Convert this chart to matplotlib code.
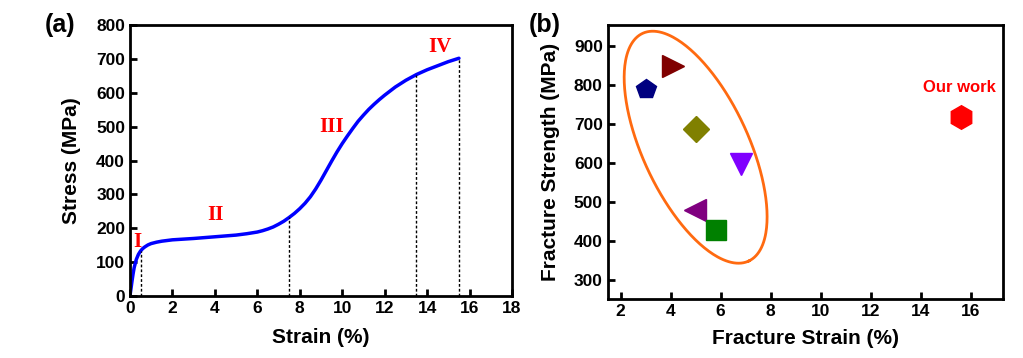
import numpy as np
import matplotlib
matplotlib.use("Agg")
import matplotlib.pyplot as plt

plt.rcParams['font.family'] = ['Liberation Sans', 'DejaVu Sans']
plt.rcParams['font.weight'] = 'bold'

# ---- Panel (a) data: stress-strain curve ----
strain = [0, 0.05, 0.1, 0.15, 0.2, 0.3, 0.4, 0.5, 0.6, 0.7, 0.85, 1.0, 1.25, 1.5, 2, 3, 4, 5, 5.5, 6,
          6.25, 6.5, 6.75, 7, 7.25, 7.5, 7.75, 8, 8.25, 8.5, 8.75, 9, 9.25, 9.5, 9.75, 10, 10.25,
          10.5, 10.75, 11, 11.25, 11.5, 11.75, 12, 12.5, 13, 13.5, 14, 14.5, 15, 15.5]
stress = [0, 22, 45, 66, 84, 108, 123, 133, 140, 145, 151, 155, 159, 162, 166, 170, 175, 180, 184, 189,
          193, 198, 204, 212, 221, 232, 244, 258, 274, 293, 316, 342, 370, 398, 425, 450, 473,
          495, 516, 534, 551, 566, 580, 593, 617, 637, 654, 668, 680, 692, 702]
stage_x = [0.5, 7.5, 13.5, 15.5]
stage_y = [133, 232, 654, 702]
stage_labels = ['I', 'II', 'III', 'IV']
stage_lx = [0.35, 4.05, 9.5, 14.6]
stage_ly = [160, 240, 500, 735]

# ---- Panel (b) data ----
fs_strain = [3.0, 4.08, 5.0, 6.8, 4.96, 5.8, 15.6]
fs_strength = [790, 849, 689, 598, 480, 428, 718]
markers = ['p', '>', 'D', 'v', '<', 's', 'h']
colors = ['#000080', '#800000', '#808000', '#8000ff', '#800080', '#008000', '#ff0000']
msizes = [15, 16, 13, 16, 16, 14, 17]

fig = plt.figure(figsize=(10.23, 3.58), dpi=100)
ax1 = fig.add_axes([0.127, 0.173, 0.3735, 0.757])
ax2 = fig.add_axes([0.594, 0.165, 0.386, 0.765])

for ax in (ax1, ax2):
    for s in ax.spines.values():
        s.set_linewidth(2)
    ax.tick_params(direction='in', length=5, width=2, labelsize=12.5, top=False, right=False)

ax1.plot(strain, stress, color='#0000ff', lw=2.5, solid_capstyle='round')
for x, y in zip(stage_x, stage_y):
    ax1.plot([x, x], [0, y], color='black', ls=(0, (2, 1.5)), lw=1)
for t, x, y in zip(stage_labels, stage_lx, stage_ly):
    ax1.text(x, y, t, color='red', fontsize=15, fontweight='bold',
             family='Liberation Serif', ha='center', va='center')
ax1.set_xlim(0, 18)
ax1.set_ylim(0, 800)
ax1.set_xticks(range(0, 19, 2))
ax1.set_yticks(range(0, 801, 100))
ax1.set_xlabel('Strain (%)', fontsize=15, fontweight='bold', labelpad=9)
ax1.set_ylabel('Stress (MPa)', fontsize=15, fontweight='bold', labelpad=11)
for lab in ax1.get_xticklabels() + ax1.get_yticklabels():
    lab.set_fontweight('bold')

# ---- Panel (b) ----
xlim2 = (1.48, 17.28)
ylim2 = (251, 955)
ax2.set_xlim(*xlim2)
ax2.set_ylim(*ylim2)

# ellipse (in pixel space, converted to data)
ax_w_px = 0.386 * 1023
ax_h_px = 0.765 * 358
px_x = (xlim2[1] - xlim2[0]) / ax_w_px
px_y = (ylim2[1] - ylim2[0]) / ax_h_px
ell_cx, ell_cy = 5.0, 641
ell_a, ell_b, ell_theta = 125.6, 52.8, np.deg2rad(25)
t = np.linspace(0, 2 * np.pi, 300)
u = ell_a * np.cos(t)
v = ell_b * np.sin(t)
dx = u * np.sin(ell_theta) + v * np.cos(ell_theta)
dy = -u * np.cos(ell_theta) + v * np.sin(ell_theta)
ax2.plot(ell_cx + dx * px_x, ell_cy + dy * px_y, color='#ff6a10', lw=2)

for x, y, m, c, ms in zip(fs_strain, fs_strength, markers, colors, msizes):
    ax2.plot(x, y, marker=m, color=c, markersize=ms, ls='none')
ax2.text(15.56, 795, 'Our work', color='red', fontsize=12, fontweight='bold',
         ha='center', va='center')
ax2.set_xticks(range(2, 17, 2))
ax2.set_yticks(range(300, 901, 100))
ax2.set_xlabel('Fracture Strain (%)', fontsize=15, fontweight='bold', labelpad=7)
ax2.set_ylabel('Fracture Strength (MPa)', fontsize=15, fontweight='bold', labelpad=10)
for lab in ax2.get_xticklabels() + ax2.get_yticklabels():
    lab.set_fontweight('bold')

fig.text(60 / 1023, 1 - 25 / 358, '(a)', fontsize=18, fontweight='bold', ha='center', va='center')
fig.text(545 / 1023, 1 - 25 / 358, '(b)', fontsize=18, fontweight='bold', ha='center', va='center')

fig.savefig('out.png', dpi=100)
